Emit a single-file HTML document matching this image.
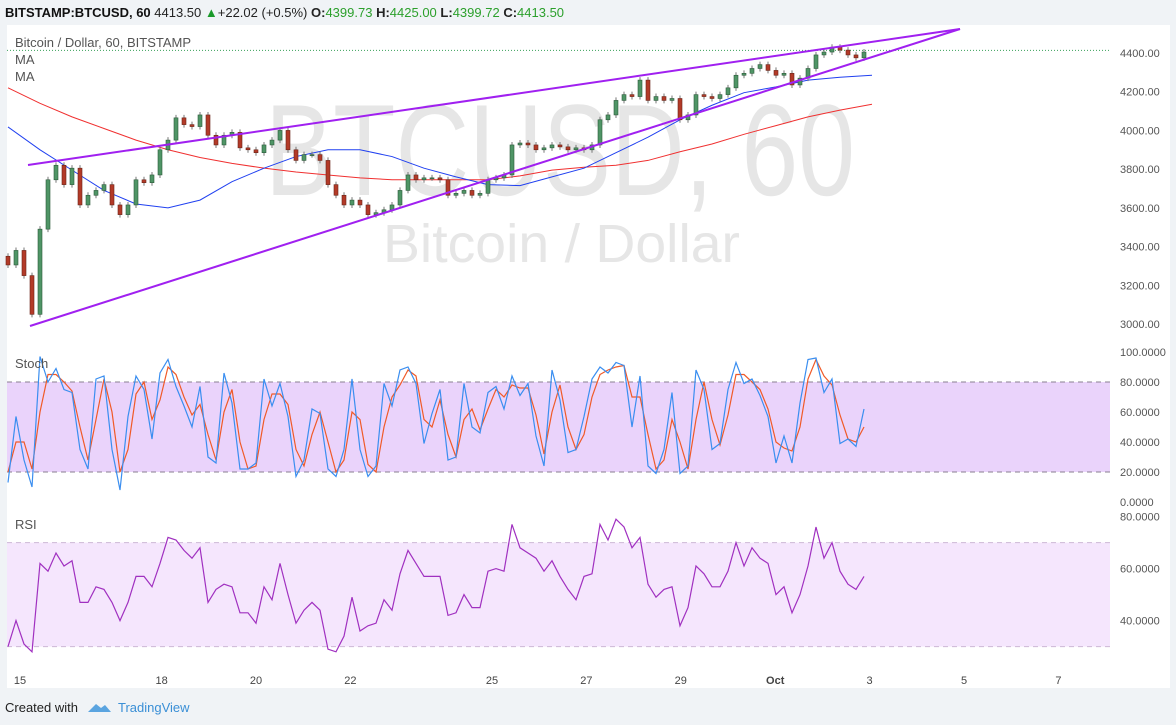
<!DOCTYPE html>
<html><head><meta charset="utf-8"><style>
body{margin:0;background:#f0f3f6;width:1176px;height:725px;overflow:hidden;font-family:"Liberation Sans",sans-serif}
svg{position:absolute;left:0;top:0}
</style></head><body>
<svg width="1176" height="725">
<rect x="0" y="0" width="1176" height="725" fill="#f0f3f6"/>
<rect x="7" y="25" width="1163" height="663" fill="#ffffff"/>
<g font-size="13">
<text x="5" y="17" fill="#222"><tspan font-weight="bold" fill="#111">BITSTAMP:BTCUSD, 60</tspan> 4413.50 <tspan fill="#1a9a2a">▲</tspan>+22.02 (+0.5%) <tspan font-weight="bold">O:</tspan><tspan fill="#2ca02c">4399.73</tspan> <tspan font-weight="bold">H:</tspan><tspan fill="#2ca02c">4425.00</tspan> <tspan font-weight="bold">L:</tspan><tspan fill="#2ca02c">4399.72</tspan> <tspan font-weight="bold">C:</tspan><tspan fill="#2ca02c">4413.50</tspan></text>
</g>
<g fill="#e6e6e6">
<text x="265" y="195" font-size="130" textLength="590" lengthAdjust="spacingAndGlyphs">BTCUSD, 60</text>
<text x="383" y="262" font-size="54" textLength="357" lengthAdjust="spacingAndGlyphs">Bitcoin / Dollar</text>
</g>
<g id="bands"></g>
<g id="main"></g>
<g id="osc"></g>
<g font-size="13" fill="#555">
<text x="15" y="47">Bitcoin / Dollar, 60, BITSTAMP</text>
<text x="15" y="64">MA</text>
<text x="15" y="81">MA</text>
<text x="15" y="368">Stoch</text>
<text x="15" y="529">RSI</text>
</g>
<g id="axes" font-size="11" fill="#555"></g>
<g>
<text x="5" y="712" font-size="13" fill="#222">Created with</text>
<path d="M88 712 l8 -8 l5 4 l4 -3 l6 7 z" fill="#5aa4e0"/>
<text x="118" y="712" font-size="13" fill="#3a8fd6">TradingView</text>
</g>
</svg>
<script>
const closes=[3305,3380,3250,3050,3490,3745,3820,3720,3805,3615,3665,3690,3720,3615,3565,3615,3745,3730,3770,3900,3950,4065,4030,4020,4080,3975,3925,3975,3990,3910,3900,3885,3925,3950,4000,3900,3845,3875,3875,3845,3720,3665,3615,3640,3615,3565,3575,3590,3615,3690,3770,3745,3755,3755,3745,3665,3675,3690,3665,3675,3745,3755,3770,3925,3935,3925,3900,3910,3925,3915,3900,3910,3900,3925,4055,4080,4155,4185,4175,4260,4155,4175,4155,4165,4055,4080,4185,4175,4165,4185,4220,4285,4295,4320,4340,4310,4285,4295,4235,4270,4320,4390,4405,4430,4415,4390,4375,4405];
const firstOpen=3350;
const ma50=[4018,3900,3795,3690,3620,3600,3640,3735,3805,3865,3900,3900,3865,3805,3760,3720,3715,3760,3805,3885,3965,4055,4130,4195,4225,4260,4275,4285];
const ma200=[4220,4140,4070,4010,3950,3900,3860,3830,3805,3785,3770,3755,3745,3745,3745,3745,3765,3795,3810,3820,3845,3890,3930,3980,4025,4070,4105,4135];
const stochK=[13,57,28,10,97,80,89,75,73,35,22,82,84,35,8,57,84,75,42,86,95,77,64,50,77,30,26,86,66,22,22,26,82,64,79,57,17,28,62,59,22,17,35,82,35,17,24,79,64,88,90,79,39,59,75,28,30,79,50,46,73,77,62,84,71,79,44,24,88,68,33,35,57,82,90,86,93,91,50,84,24,19,35,73,19,24,88,75,35,39,75,93,79,82,71,57,26,44,26,66,95,96,73,82,39,42,37,62];
const stochD=[20,40,40,22,60,85,85,80,74,50,28,55,82,60,20,35,72,80,55,68,90,85,70,58,65,45,28,60,75,40,22,24,55,72,72,65,35,24,45,60,40,20,28,60,55,25,20,50,70,78,88,84,55,50,68,45,30,55,62,48,62,75,70,78,76,76,58,32,60,78,50,35,45,70,85,88,90,91,70,70,45,22,28,55,40,22,55,80,55,38,58,85,85,80,75,62,40,36,34,50,82,95,84,78,58,42,40,50];
const rsi=[30,40,31,28,62,59,66,61,63,47,47,53,52,47,40,47,57,57,53,62,72,71,67,64,68,47,52,54,53,43,43,39,53,48,62,50,39,44,47,44,29,28,34,49,36,38,39,48,44,58,67,62,57,57,57,42,43,50,45,45,59,60,59,77,68,66,64,59,63,57,52,48,57,58,77,71,79,76,68,72,54,49,52,53,38,45,61,58,53,53,59,70,61,68,64,62,50,53,43,50,61,76,64,70,59,54,52,57];
const priceTicks=[4400,4200,4000,3800,3600,3400,3200,3000];
const stochTicks=[100,80,60,40,20,0];
const rsiTicks=[80,60,40];
const dayLabels=["15","18","20","22","25","27","29","Oct","3","5","7"];
const dayOffsets=[0,3,5,7,10,12,14,16,18,20,22];
const lastPrice=4413.5;

const NS="http://www.w3.org/2000/svg";
const xBar=i=>8+i*8;
const xDay=d=>20+d*47.2;
const yP=p=>53+(4400-p)*0.19357;
const yS=v=>502-1.5*v;
const yR=v=>646.6-(v-30)*2.6;
function mk(tag,attrs,parent){const e=document.createElementNS(NS,tag);for(const k in attrs)e.setAttribute(k,attrs[k]);parent.appendChild(e);return e;}
const bands=document.getElementById('bands'),main=document.getElementById('main'),osc=document.getElementById('osc'),axes=document.getElementById('axes');

let r=mk('rect',{x:7,y:yS(80),width:1103,height:yS(20)-yS(80),fill:'#ead3fb'},bands);


r=mk('rect',{x:7,y:yR(70),width:1103,height:yR(30)-yR(70),fill:'#f5e6fd'},bands);


[[yS(80),'#8a7f90'],[yS(20),'#8a7f90'],[yR(70),'#cdb8d6'],[yR(30),'#cdb8d6']].forEach(([y,c])=>{
 const l=mk('line',{x1:7,x2:1110,y1:y,y2:y,stroke:c,'stroke-dasharray':'5,4','stroke-width':1},bands);
 
 
});
let pl=mk('line',{x1:7,x2:1110,y1:yP(lastPrice),y2:yP(lastPrice),stroke:'#3aa05a','stroke-dasharray':'1,2','stroke-width':1},bands);



function poly(arr,xf,yf,color,w,name,parent){
 const p=mk('polyline',{points:arr.map((v,i)=>xf(i)+','+yf(v)).join(' '),fill:'none',stroke:color,'stroke-width':w},parent);
 
 
}
poly(ma200,i=>xBar(i*4),yP,'#f03030',1,'ma-200-line',main);
poly(ma50,i=>xBar(i*4),yP,'#2040f0',1,'ma-50-line',main);

closes.forEach((c,i)=>{
 const o=i?closes[i-1]:firstOpen, up=c>=o, x=xBar(i);
 const t=yP(Math.max(o,c)),b=yP(Math.min(o,c));
 const g=mk('g',{},main);
 
 
 mk('line',{x1:x,x2:x,y1:t-3,y2:b+3,stroke:'#777','stroke-width':1},g);
 mk('rect',{x:x-2,y:t,width:4,height:Math.max(1,b-t),fill:up?'#4f9566':'#b33a28',stroke:up?'#2c5a3a':'#6a2418','stroke-width':0.6},g);
});

function tline(x1,y1,x2,y2,name){const l=mk('line',{x1,y1,x2,y2,stroke:'#a020f0','stroke-width':2},main);
 
 }
tline(28,165,960,29,'upper-trendline');
tline(30,326,960,29,'lower-trendline');

poly(stochD,xBar,yS,'#f05a28',1.2,'stoch-d-line',osc);
poly(stochK,xBar,yS,'#3a8ef0',1.2,'stoch-k-line',osc);
poly(rsi,xBar,yR,'#a030c0',1.2,'rsi-line',osc);

priceTicks.forEach(v=>{const t=mk('text',{x:1120,y:yP(v)+4},axes);t.textContent=v.toFixed(2);
 
 });
stochTicks.forEach(v=>{const t=mk('text',{x:1120,y:yS(v)+4},axes);t.textContent=v.toFixed(4);
 
 });
rsiTicks.forEach(v=>{const t=mk('text',{x:1120,y:yR(v)+4},axes);t.textContent=v.toFixed(4);
 
 });
dayLabels.forEach((s,i)=>{const t=mk('text',{x:xDay(dayOffsets[i]),y:684,'text-anchor':'middle','font-weight':s==='Oct'?'bold':'normal',fill:'#444'},axes);t.textContent=s;
 
 });
</script>
</body></html>
